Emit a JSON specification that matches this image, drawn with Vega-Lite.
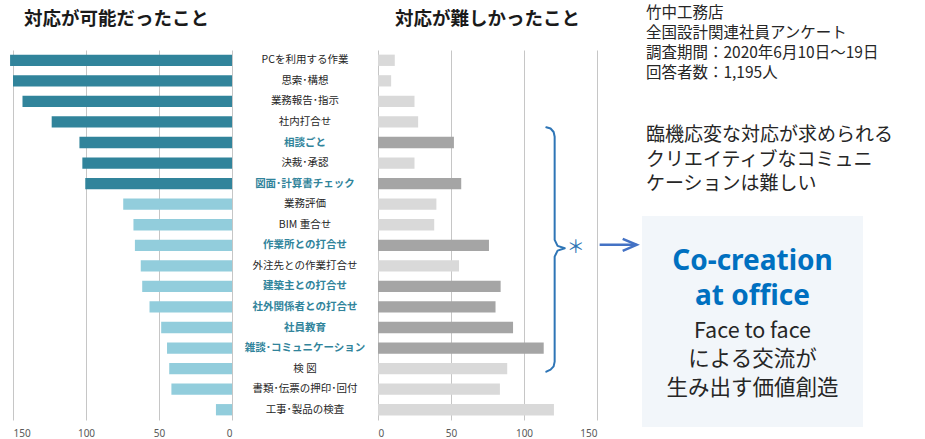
{
  "$schema": "https://vega.github.io/schema/vega-lite/v6.json",
  "padding": {"left": 10, "top": 6, "right": 3, "bottom": 0},
  "background": "white",
  "bounds": "flush",
  "spacing": 0,
  "config": {"view": {"stroke": null}, "font": "Noto Sans CJK JP"},
  "datasets": {
    "survey": [
      {"item": "PCを利用する作業", "can": 152, "hard": 11.5, "canTop": 1, "hardHi": 0},
      {"item": "思索･構想", "can": 150, "hard": 9, "canTop": 1, "hardHi": 0},
      {"item": "業務報告･指示", "can": 143.5, "hard": 25, "canTop": 1, "hardHi": 0},
      {"item": "社内打合せ", "can": 123.5, "hard": 27.5, "canTop": 1, "hardHi": 0},
      {"item": "相談ごと", "can": 104.5, "hard": 52, "canTop": 1, "hardHi": 1},
      {"item": "決裁･承認", "can": 102.5, "hard": 25, "canTop": 1, "hardHi": 0},
      {"item": "図面･計算書チェック", "can": 100.5, "hard": 57, "canTop": 1, "hardHi": 1},
      {"item": "業務評価", "can": 74.5, "hard": 40, "canTop": 0, "hardHi": 0},
      {"item": "BIM 重合せ", "can": 67.5, "hard": 38.5, "canTop": 0, "hardHi": 0},
      {"item": "作業所との打合せ", "can": 66.5, "hard": 76, "canTop": 0, "hardHi": 1},
      {"item": "外注先との作業打合せ", "can": 62.5, "hard": 55.5, "canTop": 0, "hardHi": 0},
      {"item": "建築主との打合せ", "can": 61.5, "hard": 84, "canTop": 0, "hardHi": 1},
      {"item": "社外関係者との打合せ", "can": 56.5, "hard": 80.5, "canTop": 0, "hardHi": 1},
      {"item": "社員教育", "can": 48.5, "hard": 92.5, "canTop": 0, "hardHi": 1},
      {"item": "雑談･コミュニケーション", "can": 44.5, "hard": 113.5, "canTop": 0, "hardHi": 1},
      {"item": "検 図", "can": 43, "hard": 88.5, "canTop": 0, "hardHi": 0},
      {"item": "書類･伝票の押印･回付", "can": 41.5, "hard": 83.5, "canTop": 0, "hardHi": 0},
      {"item": "工事･製品の検査", "can": 11, "hard": 120.5, "canTop": 0, "hardHi": 0}
    ]
  },
  "hconcat": [
    {
      "width": 219,
      "height": 370,
      "title": {"text": "対応が可能だったこと", "fontSize": 18.5, "fontWeight": "bold", "color": "#1a1a1a", "offset": 22, "dx": -6, "anchor": "middle", "font": "Noto Sans CJK JP"},
      "data": {"name": "survey"},
      "mark": {"type": "bar"},
      "encoding": {
        "y": {"field": "item", "type": "nominal", "sort": null, "axis": null, "scale": {"paddingInner": 0.45, "paddingOuter": 0.225}},
        "x": {"field": "can", "type": "quantitative", "scale": {"domain": [0, 150], "reverse": true},
          "axis": {"values": [0, 50, 100, 150], "title": null, "grid": true, "gridColor": "#C6C6C6", "ticks": false, "domain": false, "labelFontSize": 10, "labelColor": "#595959", "labelPadding": 8, "labelFont": "Noto Sans"}},
        "color": {"condition": {"test": "datum.canTop === 1", "value": "#31849B"}, "value": "#92CDDC"}
      }
    },
    {
      "width": 146,
      "height": 370,
      "data": {"name": "survey"},
      "layer": [
        {
          "mark": {"type": "text", "fontSize": 10.5, "color": "#262626", "font": "Noto Sans CJK JP"},
          "encoding": {
            "y": {"field": "item", "type": "nominal", "sort": null, "axis": null, "scale": {"padding": 0.5}},
            "text": {"field": "item", "type": "nominal", "condition": {"test": "datum.hardHi === 1", "value": ""}}
          }
        },
        {
          "mark": {"type": "text", "fontSize": 10.5, "fontWeight": "bold", "color": "#31849B", "font": "Noto Sans CJK JP"},
          "encoding": {
            "y": {"field": "item", "type": "nominal", "sort": null, "axis": null, "scale": {"padding": 0.5}},
            "text": {"condition": {"test": "datum.hardHi === 1", "field": "item", "type": "nominal"}, "value": ""}
          }
        }
      ]
    },
    {
      "width": 219,
      "height": 370,
      "title": {"text": "対応が難しかったこと", "fontSize": 18.5, "fontWeight": "bold", "color": "#1a1a1a", "offset": 22, "anchor": "middle", "font": "Noto Sans CJK JP"},
      "layer": [
        {
          "data": {"name": "survey"},
          "mark": {"type": "bar"},
          "encoding": {
            "y": {"field": "item", "type": "nominal", "sort": null, "axis": null, "scale": {"paddingInner": 0.45, "paddingOuter": 0.225}},
            "x": {"field": "hard", "type": "quantitative", "scale": {"domain": [0, 150]},
              "axis": {"values": [0, 50, 100, 150], "title": null, "grid": true, "gridColor": "#C6C6C6", "ticks": false, "domain": false, "labelFontSize": 10, "labelColor": "#595959", "labelPadding": 8, "labelFont": "Noto Sans"}},
            "color": {"condition": {"test": "datum.hardHi === 1", "value": "#A5A5A5"}, "value": "#D9D9D9"}
          }
        },
        {
          "layer": [
            {
              "data": {"values": [
                {"ord": 1, "xv": 115.3, "yv": 3.76},
                {"ord": 2, "xv": 118.2, "yv": 3.82},
                {"ord": 3, "xv": 120.3, "yv": 3.99},
                {"ord": 4, "xv": 121.0, "yv": 4.22},
                {"ord": 5, "xv": 121.0, "yv": 9.24},
                {"ord": 6, "xv": 123.0, "yv": 9.53},
                {"ord": 7, "xv": 127.9, "yv": 9.645},
                {"ord": 8, "xv": 123.0, "yv": 9.76},
                {"ord": 9, "xv": 121.0, "yv": 10.05},
                {"ord": 10, "xv": 121.0, "yv": 15.16},
                {"ord": 11, "xv": 120.3, "yv": 15.39},
                {"ord": 12, "xv": 118.2, "yv": 15.55},
                {"ord": 13, "xv": 115.3, "yv": 15.65}
              ]},
              "mark": {"type": "line", "strokeWidth": 2, "color": "#2E75B6", "interpolate": "linear", "strokeJoin": "round", "strokeCap": "round"},
              "encoding": {
                "x": {"field": "xv", "type": "quantitative", "scale": {"domain": [0, 150]}},
                "y": {"field": "yv", "type": "quantitative", "scale": {"domain": [0, 18], "reverse": true}, "axis": null},
                "order": {"field": "ord", "type": "quantitative"}
              }
            },
            {
              "data": {"values": [
                {"part": "shaft", "ord": 1, "xv": 151.8, "yv": 9.48},
                {"part": "shaft", "ord": 2, "xv": 177.0, "yv": 9.48},
                {"part": "head", "ord": 1, "xv": 167.6, "yv": 9.19},
                {"part": "head", "ord": 2, "xv": 177.2, "yv": 9.48},
                {"part": "head", "ord": 3, "xv": 167.6, "yv": 9.77}
              ]},
              "mark": {"type": "line", "strokeWidth": 2.5, "color": "#4472C4", "strokeJoin": "miter"},
              "encoding": {
                "x": {"field": "xv", "type": "quantitative", "scale": {"domain": [0, 150]}},
                "y": {"field": "yv", "type": "quantitative", "scale": {"domain": [0, 18], "reverse": true}, "axis": null},
                "detail": {"field": "part", "type": "nominal"},
                "order": {"field": "ord", "type": "quantitative"}
              }
            },
            {
              "data": {"values": [{"t": "＊", "xv": 135.4, "yv": 9.63}]},
              "mark": {"type": "text", "fontSize": 18, "color": "#2E75B6", "align": "center", "baseline": "middle", "font": "Noto Sans CJK JP"},
              "encoding": {
                "x": {"field": "xv", "type": "quantitative", "scale": {"domain": [0, 150]}},
                "y": {"field": "yv", "type": "quantitative", "scale": {"domain": [0, 18], "reverse": true}, "axis": null},
                "text": {"field": "t"}
              }
            }
          ]
        }
      ],
      "resolve": {"scale": {"y": "independent"}}
    },
    {
      "width": 320,
      "height": 370,
      "layer": [
        {
          "data": {"values": [{"x0": 14.06, "x1": 83.13, "y0": 8.07, "y1": 18.34}]},
          "mark": {"type": "rect", "color": "#F2F6FA"},
          "encoding": {
            "x": {"field": "x0", "type": "quantitative", "scale": {"domain": [0, 100]}, "axis": null},
            "x2": {"field": "x1"},
            "y": {"field": "y0", "type": "quantitative", "scale": {"domain": [0, 18], "reverse": true}, "axis": null},
            "y2": {"field": "y1"}
          }
        },
        {
          "data": {"values": [{"t": "竹中工務店\n全国設計関連社員アンケート\n調査期間：2020年6月10日～19日\n回答者数：1,195人", "xv": 15.3, "yv": -2.12}]},
          "mark": {"type": "text", "fontSize": 15.5, "lineHeight": 20, "lineBreak": "\n", "color": "#262626", "align": "left", "baseline": "top", "font": "Noto Sans CJK JP"},
          "encoding": {
            "x": {"field": "xv", "type": "quantitative", "scale": {"domain": [0, 100]}, "axis": null},
            "y": {"field": "yv", "type": "quantitative", "scale": {"domain": [0, 18], "reverse": true}, "axis": null},
            "text": {"field": "t"}
          }
        },
        {
          "data": {"values": [{"t": "臨機応変な対応が求められる\nクリエイティブなコミュニ\nケーションは難しい", "xv": 15.3, "yv": 3.72}]},
          "mark": {"type": "text", "fontSize": 19, "lineHeight": 24.5, "lineBreak": "\n", "color": "#262626", "align": "left", "baseline": "top", "font": "Noto Sans CJK JP"},
          "encoding": {
            "x": {"field": "xv", "type": "quantitative", "scale": {"domain": [0, 100]}, "axis": null},
            "y": {"field": "yv", "type": "quantitative", "scale": {"domain": [0, 18], "reverse": true}, "axis": null},
            "text": {"field": "t"}
          }
        },
        {
          "data": {"values": [{"t": "Co-creation\nat office", "xv": 48.6, "yv": 10.3}]},
          "mark": {"type": "text", "fontSize": 28, "fontWeight": "bold", "lineHeight": 35, "lineBreak": "\n", "color": "#0070C0", "align": "center", "baseline": "middle", "font": "Noto Sans"},
          "encoding": {
            "x": {"field": "xv", "type": "quantitative", "scale": {"domain": [0, 100]}, "axis": null},
            "y": {"field": "yv", "type": "quantitative", "scale": {"domain": [0, 18], "reverse": true}, "axis": null},
            "text": {"field": "t"}
          }
        },
        {
          "data": {"values": [{"t": "Face to face\nによる交流が\n生み出す価値創造", "xv": 48.6, "yv": 13.7}]},
          "mark": {"type": "text", "fontSize": 21.5, "lineHeight": 28.5, "lineBreak": "\n", "color": "#262626", "align": "center", "baseline": "middle", "font": "Noto Sans CJK JP"},
          "encoding": {
            "x": {"field": "xv", "type": "quantitative", "scale": {"domain": [0, 100]}, "axis": null},
            "y": {"field": "yv", "type": "quantitative", "scale": {"domain": [0, 18], "reverse": true}, "axis": null},
            "text": {"field": "t"}
          }
        }
      ]
    }
  ]
}
